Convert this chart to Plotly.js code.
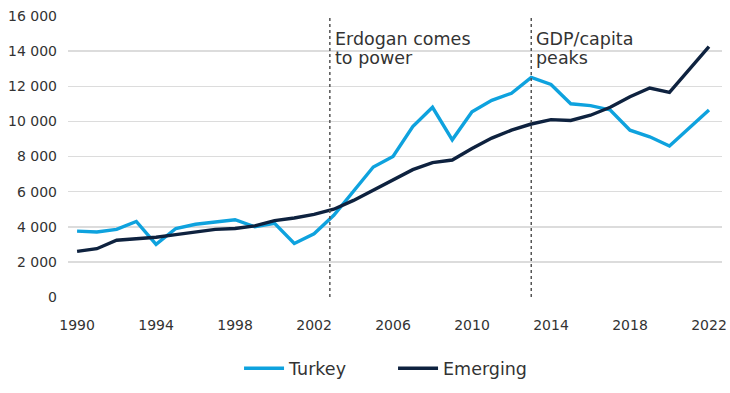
<!DOCTYPE html>
<html>
<head>
<meta charset="utf-8">
<script src="https://cdn.plot.ly/plotly-3.0.1.min.js"></script>
<style>html,body{margin:0;padding:0;background:#fff;}#chart{width:730px;height:393px;}</style>
</head>
<body>
<div id="chart"></div>
<script>
const years = [1990,1991,1992,1993,1994,1995,1996,1997,1998,1999,2000,2001,2002,2003,2004,2005,2006,2007,2008,2009,2010,2011,2012,2013,2014,2015,2016,2017,2018,2019,2020,2021,2022];
const turkey = [3750,3700,3850,4300,3000,3900,4140,4270,4400,4000,4200,3050,3600,4650,6000,7400,8000,9700,10800,8950,10550,11200,11600,12500,12100,11000,10900,10650,9500,9120,8600,9600,10650];
const emerging = [2600,2750,3230,3300,3400,3550,3700,3850,3900,4050,4350,4500,4700,5000,5500,6100,6700,7250,7650,7800,8450,9050,9500,9850,10100,10050,10350,10800,11400,11900,11650,12950,14250];
const seriesNames = ["Turkey","Emerging"];
const eventX = [2002.8, 2013];
const eventLines = [["Erdogan comes","to power"],["GDP/capita","peaks"]];
const xTicks = [1990,1994,1998,2002,2006,2010,2014,2018,2022];
const yTicks = [0,2000,4000,6000,8000,10000,12000,14000,16000];

const FONT = "'DejaVu Sans', sans-serif";
const traces = [
  {x: years, y: turkey, name: seriesNames[0], type: 'scatter', mode: 'lines',
   line: {color: '#0ea2de', width: 3.4}},
  {x: years, y: emerging, name: seriesNames[1], type: 'scatter', mode: 'lines',
   line: {color: '#0e223f', width: 3.4}}
];
const shapes = eventX.map(x => ({type: 'line', xref: 'x', yref: 'y', x0: x, x1: x, y0: 0, y1: 16000,
  line: {color: '#555', width: 1.5, dash: '3px,3px'}}));
const annotations = [];
eventX.forEach((x, i) => {
  eventLines[i].forEach((t, j) => {
    annotations.push({xref: 'x', yref: 'y', x: x, y: 16000, text: t,
      showarrow: false, xanchor: 'left', yanchor: 'top', xshift: 3, yshift: -11 - 19 * j, align: 'left',
      font: {family: FONT, size: 17.5, color: '#333'}});
  });
});

const layout = {
  width: 730, height: 393,
  margin: {l: 68, r: 8, t: 16, b: 96, autoexpand: false},
  paper_bgcolor: '#fff', plot_bgcolor: '#fff',
  separators: '. ',
  font: {family: FONT, size: 14, color: '#333'},
  showlegend: true,
  legend: {orientation: 'h', x: 0.497, xanchor: 'center', y: -0.19, yanchor: 'top',
    font: {family: FONT, size: 17.5, color: '#333'}, itemwidth: 40, entrywidth: 99},
  xaxis: {range: [1989.54, 2022.66], tickvals: xTicks, ticktext: xTicks.map(String),
    showgrid: false, zeroline: false, showline: false, ticks: '', ticklabelstandoff: 18,
    fixedrange: true, automargin: false},
  yaxis: {range: [0, 16000], tickvals: yTicks, tickformat: ',d', showgrid: true,
    gridcolor: '#dcdcdc', gridwidth: 1.5, zeroline: false, showline: false, ticks: '',
    ticklabelstandoff: 10, fixedrange: true, automargin: false},
  shapes: shapes,
  annotations: annotations
};
Plotly.newPlot('chart', traces, layout, {displayModeBar: false, staticPlot: true});
</script>
</body>
</html>
